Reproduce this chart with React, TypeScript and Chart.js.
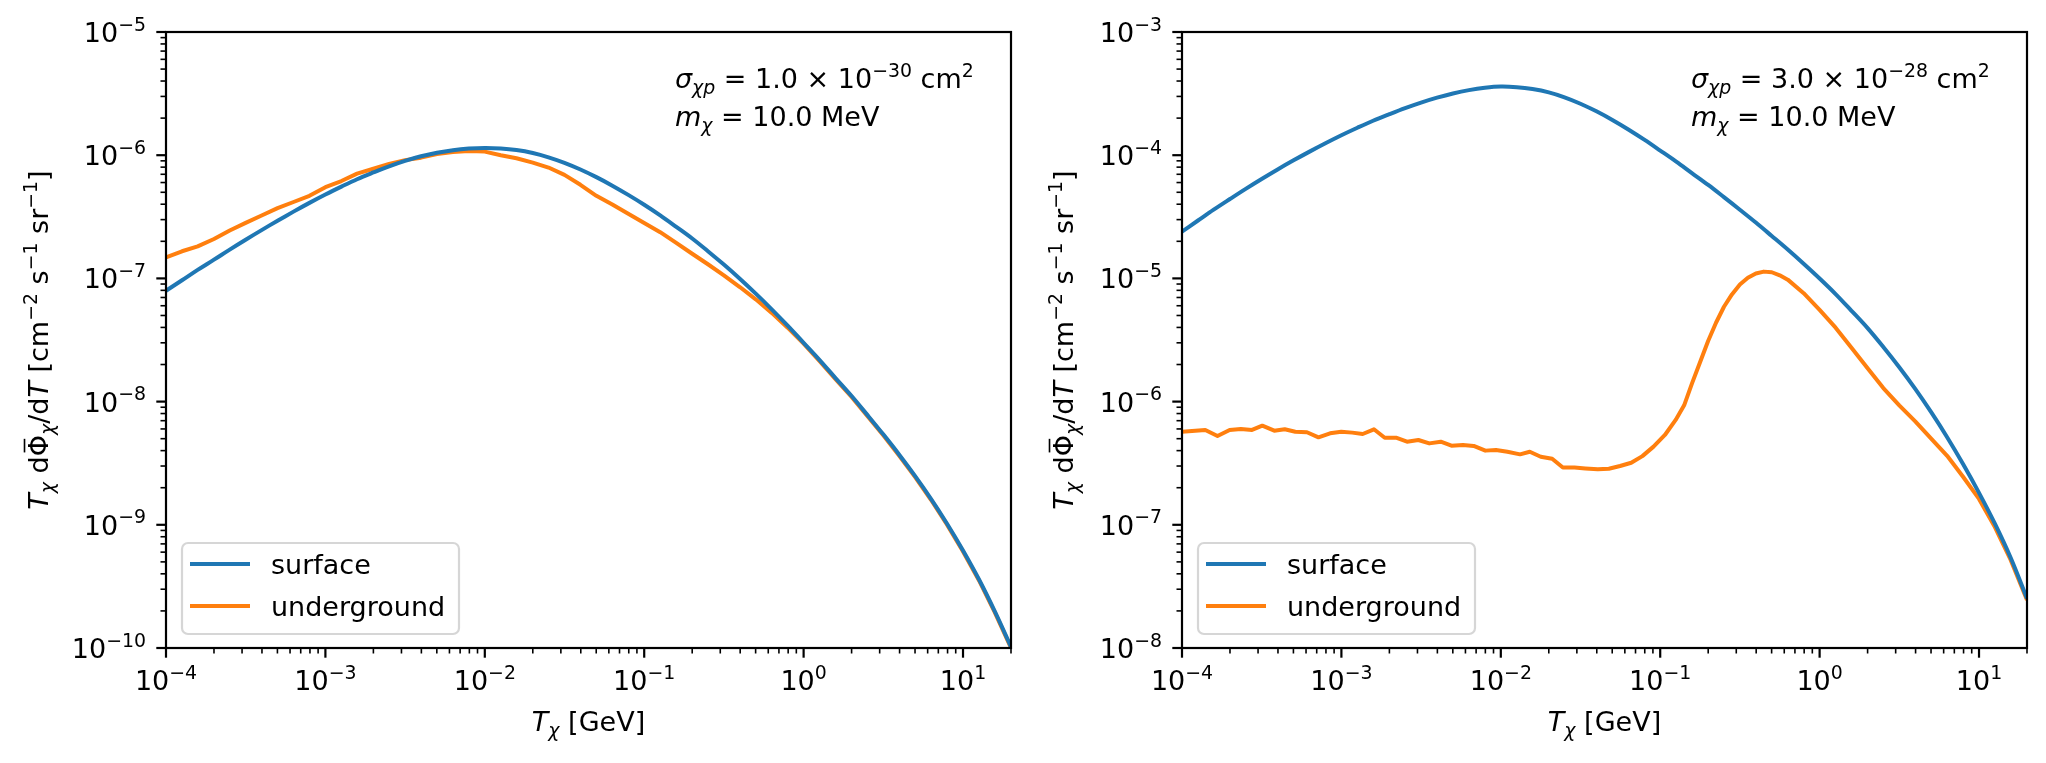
import React, { useEffect, useRef } from 'react';
import { Chart, registerables } from 'chart.js';

Chart.register(...registerables);

// ------------------------------------------------------------------ data
// kinetic energy grid T_chi [GeV]
const T_GRID = [
  1.00e-4, 1.26e-4, 1.58e-4, 2.00e-4, 2.51e-4, 3.16e-4, 3.98e-4, 5.01e-4, 6.31e-4, 7.94e-4,
  1.00e-3, 1.26e-3, 1.58e-3, 2.00e-3, 2.51e-3, 3.16e-3, 3.98e-3, 5.01e-3, 6.31e-3, 7.94e-3,
  1.00e-2, 1.26e-2, 1.58e-2, 2.00e-2, 2.51e-2, 3.16e-2, 3.98e-2, 5.01e-2, 6.31e-2, 7.94e-2,
  1.00e-1, 1.26e-1, 1.58e-1, 2.00e-1, 2.51e-1, 3.16e-1, 3.98e-1, 5.01e-1, 6.31e-1, 7.94e-1,
  1.00, 1.26, 1.58, 2.00, 2.51, 3.16, 3.98, 5.01, 6.31, 7.94,
  10.0, 12.6, 15.8, 20.0,
];

// left panel: sigma = 1e-30 cm^2
const SURFACE_LEFT = [
  7.94e-8, 9.66e-8, 1.172e-7, 1.419e-7, 1.714e-7, 2.061e-7, 2.466e-7, 2.938e-7, 3.483e-7, 4.102e-7,
  4.797e-7, 5.559e-7, 6.383e-7, 7.244e-7, 8.128e-7, 8.995e-7, 9.795e-7, 1.047e-6, 1.099e-6, 1.132e-6,
  1.146e-6, 1.135e-6, 1.102e-6, 1.042e-6, 9.616e-7, 8.670e-7, 7.656e-7, 6.637e-7, 5.662e-7, 4.764e-7,
  3.963e-7, 3.251e-7, 2.636e-7, 2.109e-7, 1.663e-7, 1.294e-7, 9.93e-8, 7.516e-8, 5.610e-8, 4.130e-8,
  2.999e-8, 2.173e-8, 1.560e-8, 1.109e-8, 7.80e-9, 5.420e-9, 3.707e-9, 2.483e-9, 1.618e-9, 1.021e-9,
  6.194e-10, 3.597e-10, 1.991e-10, 1.021e-10,
];
const UNDERGROUND_LEFT = [
  1.48e-7, 1.66e-7, 1.82e-7, 2.09e-7, 2.45e-7, 2.82e-7, 3.24e-7, 3.72e-7, 4.17e-7, 4.68e-7,
  5.50e-7, 6.17e-7, 7.08e-7, 7.76e-7, 8.51e-7, 9.12e-7, 9.55e-7, 1.02e-6, 1.06e-6, 1.08e-6,
  1.07e-6, 1.00e-6, 9.44e-7, 8.71e-7, 7.94e-7, 6.92e-7, 5.75e-7, 4.68e-7, 3.98e-7, 3.35e-7,
  2.818e-7, 2.371e-7, 1.950e-7, 1.585e-7, 1.303e-7, 1.059e-7, 8.511e-8, 6.761e-8, 5.248e-8, 3.981e-8,
  2.951e-8, 2.133e-8, 1.531e-8, 1.089e-8, 7.656e-9, 5.321e-9, 3.639e-9, 2.438e-9, 1.589e-9, 1.002e-9,
  6.081e-10, 3.532e-10, 1.954e-10, 1.002e-10,
];

// right panel: sigma = 3e-28 cm^2
const SURFACE_RIGHT = [
  2.40e-5, 2.95e-5, 3.61e-5, 4.41e-5, 5.33e-5, 6.41e-5, 7.66e-5, 9.08e-5, 1.069e-4, 1.250e-4,
  1.452e-4, 1.671e-4, 1.905e-4, 2.153e-4, 2.410e-4, 2.673e-4, 2.931e-4, 3.170e-4, 3.373e-4, 3.524e-4,
  3.606e-4, 3.565e-4, 3.443e-4, 3.236e-4, 2.951e-4, 2.618e-4, 2.270e-4, 1.932e-4, 1.618e-4, 1.337e-4,
  1.091e-4, 8.87e-5, 7.16e-5, 5.74e-5, 4.57e-5, 3.61e-5, 2.84e-5, 2.21e-5, 1.714e-5, 1.315e-5,
  9.98e-6, 7.464e-6, 5.483e-6, 3.945e-6, 2.773e-6, 1.901e-6, 1.268e-6, 8.204e-7, 5.140e-7, 3.112e-7,
  1.816e-7, 1.016e-7, 5.395e-8, 2.523e-8,
];
const T_UNDERGROUND_RIGHT = [
  1.00e-4, 1.40e-4, 1.67e-4, 1.99e-4, 2.34e-4, 2.75e-4, 3.19e-4, 3.79e-4, 4.41e-4, 5.14e-4,
  6.08e-4, 7.18e-4, 8.49e-4, 9.98e-4, 1.17e-3, 1.36e-3, 1.60e-3, 1.87e-3, 2.20e-3, 2.58e-3,
  3.04e-3, 3.56e-3, 4.20e-3, 4.90e-3, 5.79e-3, 6.76e-3, 8.00e-3, 9.33e-3, 1.10e-2, 1.32e-2,
  1.52e-2, 1.78e-2, 2.10e-2, 2.45e-2, 2.90e-2, 3.39e-2, 4.06e-2, 4.76e-2, 5.60e-2, 6.58e-2,
  7.73e-2, 9.08e-2, 1.07e-1, 1.25e-1, 1.413e-1,
  1.585e-1, 1.778e-1, 1.995e-1, 2.239e-1, 2.512e-1, 2.818e-1, 3.162e-1, 3.548e-1, 3.981e-1, 4.467e-1,
  5.012e-1, 5.623e-1, 6.310e-1, 7.943e-1, 1.00, 1.26, 1.58, 2.00, 2.51, 3.16,
  3.98, 5.01, 6.31, 7.94, 10.0, 12.6, 15.8, 20.0,
];
const UNDERGROUND_RIGHT = [
  5.70e-7, 5.89e-7, 5.26e-7, 5.89e-7, 6.00e-7, 5.89e-7, 6.38e-7, 5.81e-7, 5.96e-7, 5.70e-7,
  5.64e-7, 5.13e-7, 5.53e-7, 5.70e-7, 5.60e-7, 5.46e-7, 5.96e-7, 5.09e-7, 5.09e-7, 4.73e-7,
  4.88e-7, 4.58e-7, 4.73e-7, 4.39e-7, 4.45e-7, 4.37e-7, 4.00e-7, 4.05e-7, 3.92e-7, 3.73e-7,
  3.92e-7, 3.57e-7, 3.44e-7, 2.92e-7, 2.92e-7, 2.87e-7, 2.82e-7, 2.85e-7, 3.00e-7, 3.19e-7,
  3.61e-7, 4.31e-7, 5.36e-7, 7.10e-7, 9.33e-7,
  1.413e-6, 2.089e-6, 3.090e-6, 4.365e-6, 5.888e-6, 7.413e-6, 8.913e-6, 1.012e-5, 1.096e-5, 1.135e-5,
  1.122e-5, 1.059e-5, 9.77e-6, 7.586e-6, 5.559e-6, 3.981e-6, 2.754e-6, 1.862e-6, 1.288e-6, 9.333e-7,
  6.918e-7, 5.012e-7, 3.631e-7, 2.455e-7, 1.622e-7, 9.55e-8, 5.19e-8, 2.455e-8,
];

const SERIES_LABELS = ['surface', 'underground'];
const SERIES_COLORS = ['#1f77b4', '#ff7f0e'];
const X_MIN = 1e-4;
const X_MAX = 20;
const X_TICK_EXPONENTS = [-4, -3, -2, -1, 0, 1];
const Y_TICK_EXPONENTS_LEFT = [-10, -9, -8, -7, -6, -5];
const Y_TICK_EXPONENTS_RIGHT = [-8, -7, -6, -5, -4, -3];
const SIGMA_MANTISSA = ['1.0', '3.0'];
const SIGMA_EXPONENT = ['−30', '−28'];
const MASS_TEXT = '10.0 MeV';

// ------------------------------------------------------------------ text helpers
type Run = { t: string; it?: boolean; sc?: number; dy?: number; bar?: boolean };
const FONT = '"DejaVu Sans", "Noto Sans", sans-serif';
const F = 27;
const SUP = { sc: 0.7, dy: -0.42 };
const SUB = { sc: 0.7, dy: 0.22 };

function setFont(ctx: CanvasRenderingContext2D, r: Run) {
  ctx.font = `${r.it ? 'italic ' : ''}${(F * (r.sc ?? 1)).toFixed(2)}px ${FONT}`;
}
function measureRuns(ctx: CanvasRenderingContext2D, runs: Run[]) {
  let w = 0;
  for (const r of runs) {
    setFont(ctx, r);
    w += ctx.measureText(r.t).width;
  }
  return w;
}
function drawRuns(ctx: CanvasRenderingContext2D, runs: Run[], x: number, y: number) {
  let cx = x;
  for (const r of runs) {
    setFont(ctx, r);
    const dy = (r.dy ?? 0) * F;
    ctx.fillText(r.t, cx, y + dy);
    const w = ctx.measureText(r.t).width;
    if (r.bar) ctx.fillRect(cx + w * 0.18, y + dy - F * 0.9, w * 0.64, F * 0.06);
    cx += w;
  }
  return cx - x;
}
const powRuns = (e: number): Run[] => [{ t: '10' }, { t: (e < 0 ? '−' : '') + Math.abs(e), ...SUP }];

const X_LABEL: Run[] = [{ t: 'T', it: true }, { t: 'χ', it: true, ...SUB }, { t: ' [GeV]' }];
const Y_LABEL: Run[] = [
  { t: 'T', it: true }, { t: 'χ', it: true, ...SUB }, { t: ' d' }, { t: 'Φ', bar: true },
  { t: 'χ', it: true, ...SUB }, { t: '/d' }, { t: 'T', it: true }, { t: ' [cm' }, { t: '−2', ...SUP },
  { t: ' s' }, { t: '−1', ...SUP }, { t: ' sr' }, { t: '−1', ...SUP }, { t: ']' },
];

type PanelCfg = {
  yExps: number[];
  panel: number;
  ylabelX: number;
};

function makeDecor(cfg: PanelCfg) {
  return {
    id: 'decor',
    afterDatasetsDraw(chart: any) {
      const { ctx, chartArea: a, scales } = chart;
      const xs = scales.x;
      const ys = scales.y;
      ctx.save();
      ctx.fillStyle = '#000';
      ctx.strokeStyle = '#000';
      ctx.textAlign = 'left';
      ctx.textBaseline = 'alphabetic';

      // frame
      ctx.lineWidth = 2.2;
      ctx.strokeRect(a.left, a.top, a.right - a.left, a.bottom - a.top);

      // ticks
      const tick = (x1: number, y1: number, x2: number, y2: number, w: number) => {
        ctx.lineWidth = w;
        ctx.beginPath();
        ctx.moveTo(x1, y1);
        ctx.lineTo(x2, y2);
        ctx.stroke();
      };
      const yMinE = cfg.yExps[0];
      const yMaxE = cfg.yExps[cfg.yExps.length - 1];
      for (let e = -4; e <= 1; e++) {
        for (let m = 2; m <= 9; m++) {
          const v = m * Math.pow(10, e);
          if (v > X_MAX * 1.0001) continue;
          const px = xs.getPixelForValue(v);
          tick(px, a.bottom, px, a.bottom + 5.5, 1.6);
        }
      }
      for (let e = yMinE; e < yMaxE; e++) {
        for (let m = 2; m <= 9; m++) {
          const py = ys.getPixelForValue(m * Math.pow(10, e));
          tick(a.left, py, a.left - 5.5, py, 1.6);
        }
      }
      for (const e of X_TICK_EXPONENTS) {
        const px = xs.getPixelForValue(Math.pow(10, e));
        tick(px, a.bottom, px, a.bottom + 9.7, 2.2);
        const runs = powRuns(e);
        const w = measureRuns(ctx, runs);
        drawRuns(ctx, runs, px - w / 2, a.bottom + 42);
      }
      for (const e of cfg.yExps) {
        const py = ys.getPixelForValue(Math.pow(10, e));
        tick(a.left, py, a.left - 9.7, py, 2.2);
        const runs = powRuns(e);
        const w = measureRuns(ctx, runs);
        drawRuns(ctx, runs, a.left - 20 - w, py + 10);
      }

      // axis labels
      const xw = measureRuns(ctx, X_LABEL);
      drawRuns(ctx, X_LABEL, (a.left + a.right) / 2 - xw / 2, a.bottom + 83);
      const yw = measureRuns(ctx, Y_LABEL);
      ctx.save();
      ctx.translate(cfg.ylabelX, (a.top + a.bottom) / 2);
      ctx.rotate(-Math.PI / 2);
      drawRuns(ctx, Y_LABEL, -yw / 2, 0);
      ctx.restore();

      // annotation
      const ax = a.left + 509;
      drawRuns(ctx, [
        { t: 'σ', it: true }, { t: 'χp', it: true, ...SUB }, { t: ' = ' + SIGMA_MANTISSA[cfg.panel] + ' × 10' },
        { t: SIGMA_EXPONENT[cfg.panel], ...SUP }, { t: ' cm' }, { t: '2', ...SUP },
      ], ax, a.top + 56);
      drawRuns(ctx, [{ t: 'm', it: true }, { t: 'χ', it: true, ...SUB }, { t: ' = ' + MASS_TEXT }], ax, a.top + 94);

      // legend
      const bx = a.left + 16;
      const bw = 277;
      const bh = 91;
      const by = a.bottom - 14 - bh;
      ctx.beginPath();
      ctx.roundRect(bx, by, bw, bh, 6);
      ctx.fillStyle = 'rgba(255,255,255,0.8)';
      ctx.fill();
      ctx.lineWidth = 2.2;
      ctx.strokeStyle = 'rgba(204,204,204,0.8)';
      ctx.stroke();
      chart.data.datasets.forEach((ds: any, i: number) => {
        const ly = by + 21 + i * 42;
        ctx.strokeStyle = ds.borderColor;
        ctx.lineWidth = 4;
        ctx.beginPath();
        ctx.moveTo(bx + 8, ly);
        ctx.lineTo(bx + 68, ly);
        ctx.stroke();
        ctx.fillStyle = '#000';
        drawRuns(ctx, [{ t: ds.label }], bx + 89, ly + 10);
      });
      ctx.restore();
    },
  };
}

function buildChart(
  canvas: HTMLCanvasElement,
  cfg: PanelCfg,
  series: { x: number[]; y: number[]; smooth: boolean }[],
  yMin: number,
  yMax: number,
  yAxisWidth: number,
  padRight: number,
) {
  return new Chart(canvas, {
    type: 'line',
    data: {
      datasets: series.map((s, i) => ({
        label: SERIES_LABELS[i],
        data: s.x.map((x, j) => ({ x, y: s.y[j] })),
        borderColor: SERIES_COLORS[i],
        backgroundColor: SERIES_COLORS[i],
        borderWidth: 4,
        pointRadius: 0,
        fill: false,
        tension: s.smooth ? 0.35 : 0,
        cubicInterpolationMode: 'default',
        borderJoinStyle: 'round',
        borderCapStyle: 'butt',
      })),
    },
    options: {
      animation: false,
      responsive: false,
      devicePixelRatio: 1,
      events: [],
      layout: { padding: { left: 0, right: padRight, top: 32, bottom: 0 } },
      plugins: { legend: { display: false }, tooltip: { enabled: false }, title: { display: false } },
      scales: {
        x: {
          type: 'logarithmic',
          min: X_MIN,
          max: X_MAX,
          grid: { display: false },
          border: { display: false },
          ticks: { display: false },
          afterFit: (s: any) => { s.height = 115; },
        },
        y: {
          type: 'logarithmic',
          min: yMin,
          max: yMax,
          grid: { display: false },
          border: { display: false },
          ticks: { display: false },
          afterFit: (s: any) => { s.width = yAxisWidth; },
        },
      },
    } as any,
    plugins: [makeDecor(cfg) as any],
  });
}

export default function App() {
  const leftRef = useRef<HTMLCanvasElement>(null);
  const rightRef = useRef<HTMLCanvasElement>(null);

  useEffect(() => {
    if (!leftRef.current || !rightRef.current) return;
    const left = buildChart(
      leftRef.current,
      { yExps: Y_TICK_EXPONENTS_LEFT, panel: 0, ylabelX: 48 },
      [
        { x: T_GRID, y: SURFACE_LEFT, smooth: true },
        { x: T_GRID, y: UNDERGROUND_LEFT, smooth: false },
      ],
      1e-10, 1e-5, 166, 12,
    );
    const right = buildChart(
      rightRef.current,
      { yExps: Y_TICK_EXPONENTS_RIGHT, panel: 1, ylabelX: 50 },
      [
        { x: T_GRID, y: SURFACE_RIGHT, smooth: true },
        { x: T_UNDERGROUND_RIGHT, y: UNDERGROUND_RIGHT, smooth: false },
      ],
      1e-8, 1e-3, 159, 19,
    );
    return () => {
      left.destroy();
      right.destroy();
    };
  }, []);

  return (
    <div style={{ position: 'fixed', left: 0, top: 0, width: 2046, height: 763, background: '#fff' }}>
      <canvas ref={leftRef} width={1023} height={763}
        style={{ position: 'absolute', left: 0, top: 0, width: 1023, height: 763 }} />
      <canvas ref={rightRef} width={1023} height={763}
        style={{ position: 'absolute', left: 1023, top: 0, width: 1023, height: 763 }} />
    </div>
  );
}
